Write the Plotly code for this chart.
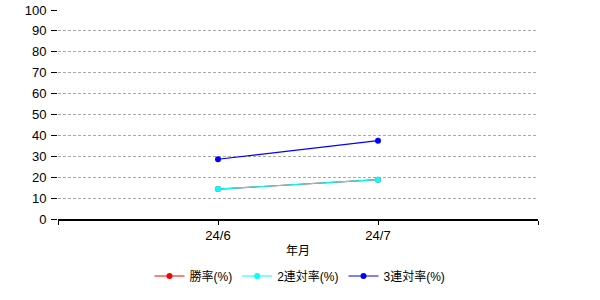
import plotly.graph_objects as go

months = ["24/6", "24/7"]
win_rate = [14.3, 18.8]
quinella_rate = [14.3, 18.8]
show_rate = [28.6, 37.5]
series_names = ["勝率(%)", "2連対率(%)", "3連対率(%)"]
series_colors = ["#ff0000", "#00ffff", "#0000ff"]
y_ticks = list(range(0, 101, 10))

xs = list(range(len(months)))
FONT = "Liberation Sans, Arial, Noto Sans CJK JP, sans-serif"

fig = go.Figure()
for name, vals, col in zip(series_names, [win_rate, quinella_rate, show_rate], series_colors):
    fig.add_trace(go.Scatter(
        x=xs, y=vals, name=name, mode="lines+markers",
        line=dict(color=col, width=1.2),
        marker=dict(color=col, size=6),
    ))

fig.update_layout(
    width=600, height=300,
    margin=dict(l=58, r=62, t=9.5, b=80.5, autoexpand=False),
    paper_bgcolor="white", plot_bgcolor="white",
    font=dict(family=FONT, size=12, color="black"),
    showlegend=True,
    legend=dict(orientation="h", x=0.5, xanchor="center", xref="container",
                y=24 / 300, yanchor="middle", yref="container",
                font=dict(size=12), itemwidth=30, tracegroupgap=0),
    xaxis=dict(
        range=[-1, len(months)], tickvals=[-1] + xs + [len(months)],
        ticktext=[""] + months + [""],
        showgrid=False, zeroline=False,
        showline=True, linecolor="black", linewidth=1.5,
        ticks="outside", ticklen=4, tickcolor="black", tickwidth=1,
        tickfont=dict(size=13),
        title=dict(text="年月", font=dict(size=12), standoff=4),
        automargin=False,
        fixedrange=True,
    ),
    yaxis=dict(
        range=[0, 100], tickvals=y_ticks,
        showgrid=True, gridcolor="#a9a9a9", griddash="3px,2px", gridwidth=1,
        zeroline=False, showline=False,
        ticks="outside", ticklen=6, tickcolor="black", tickwidth=1.2,
        tickfont=dict(size=13),
        ticklabelstandoff=2,
        automargin=False,
        fixedrange=True,
    ),
)

fig.write_html("out.html")
